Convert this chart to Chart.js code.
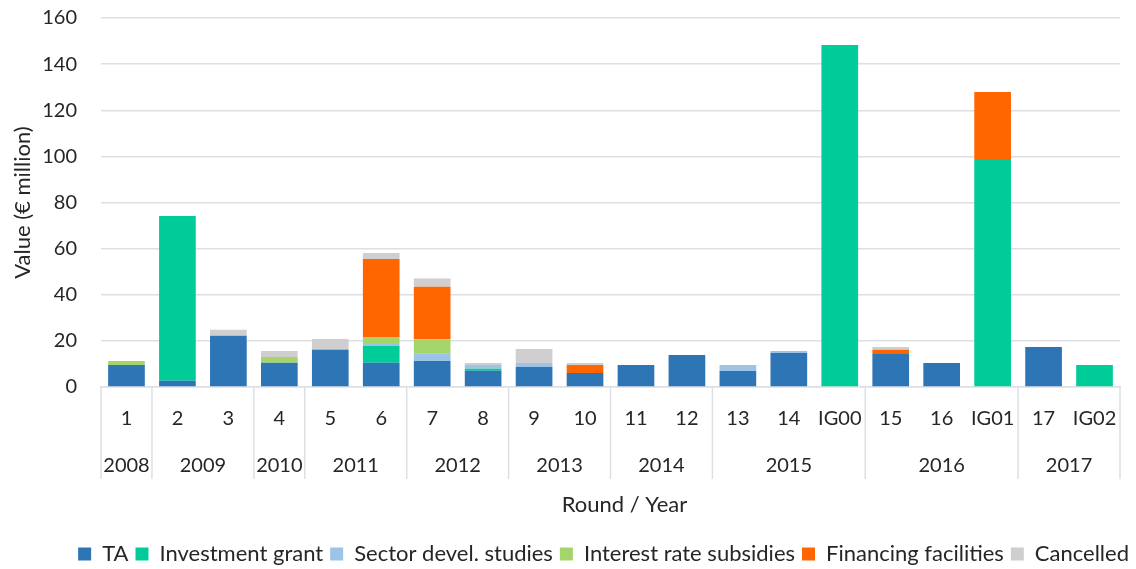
<!DOCTYPE html>
<html>
<head>
<meta charset="utf-8">
<script src="https://cdn.jsdelivr.net/npm/chart.js@4/dist/chart.umd.min.js"></script>
<style>
  html, body { margin: 0; padding: 0; background: #fff; overflow: hidden; }
  #wrap { width: 1136px; height: 575px; }
</style>
</head>
<body>
<div id="wrap"><canvas id="chart"></canvas></div>
<script>
// Categories
const rounds = ['1', '2', '3', '4', '5', '6', '7', '8', '9', '10', '11', '12', '13', '14', 'IG00', '15', '16', 'IG01', '17', 'IG02'];
const years  = ['2008', '2009', '2009', '2010', '2011', '2011', '2012', '2012', '2013', '2013', '2014', '2014', '2015', '2015', '2015', '2016', '2016', '2016', '2017', '2017'];

// Series (€ million)
const ta         = [9.5, 2.7, 22.2, 10.5, 16.2, 10.5, 11.3, 7.1, 8.7, 6.1, 9.5, 13.9, 6.9, 14.7, 0, 14.6, 10.4, 0, 17.3, 0];
const invGrant   = [0, 71.5, 0, 0, 0, 7.4, 0, 0.8, 0, 0, 0, 0, 0, 0, 148.3, 0, 0, 98.9, 0, 9.5];
const sectorStud = [0, 0, 0, 0, 0.3, 1.2, 3.3, 1.6, 1.7, 0, 0, 0, 2.6, 0.9, 0, 0, 0, 0, 0, 0];
const interest   = [1.8, 0, 0, 2.5, 0, 2.4, 6.1, 0, 0, 0, 0, 0, 0, 0, 0, 0, 0, 0, 0, 0];
const financing  = [0, 0, 0, 0, 0, 34.0, 22.8, 0, 0, 3.4, 0, 0, 0, 0, 0, 1.6, 0, 29.0, 0, 0];
const cancelled  = [0, 0, 2.6, 2.6, 4.3, 2.6, 3.6, 0.9, 6.1, 0.9, 0, 0, 0, 0, 0, 1.1, 0, 0, 0, 0];

const yTicks = [0, 20, 40, 60, 80, 100, 120, 140, 160];

const FONT = "Lato, 'Noto Sans', sans-serif";
const TEXT = '#262626';
const GRID = '#DCE0E5';

// Draws the round / year labels and separators under the x axis
const groupAxis = {
  id: 'groupAxis',
  afterLayout(chart) {
    // legend sits a bit further right than the layout padding allows
    chart.legend.left += 16;
    chart.legend.right += 16;
  },
  afterDraw(chart) {
    const ctx = chart.ctx;
    const x = chart.scales.x;
    const area = chart.chartArea;
    const half = (x.getPixelForValue(1) - x.getPixelForValue(0)) / 2;
    ctx.save();
    ctx.font = '20px ' + FONT;
    ctx.fillStyle = TEXT;
    ctx.textAlign = 'center';
    ctx.textBaseline = 'middle';
    rounds.forEach((r, i) => {
      ctx.fillText(r, x.getPixelForValue(i), area.bottom + 32);
    });
    ctx.strokeStyle = GRID;
    ctx.lineWidth = 1.5;
    let start = 0;
    for (let i = 0; i <= years.length; i++) {
      if (i === years.length || (i > 0 && years[i] !== years[i - 1])) {
        const left = x.getPixelForValue(start) - half;
        const right = x.getPixelForValue(i - 1) + half;
        ctx.fillText(years[start], (left + right) / 2, area.bottom + 79);
        start = i;
      }
      if (i === 0 || i === years.length || years[i] !== years[i - 1]) {
        const px = i === years.length ? x.getPixelForValue(i - 1) + half : x.getPixelForValue(i) - half;
        ctx.beginPath();
        ctx.moveTo(px, area.bottom);
        ctx.lineTo(px, area.bottom + 92);
        ctx.stroke();
      }
    }
    ctx.font = '22px ' + FONT;
    ctx.fillText('Round / Year', (area.left + area.right) / 2 + 14, area.bottom + 118);
    ctx.restore();
  }
};

function series(label, data, color) {
  return {
    label: label,
    data: data,
    backgroundColor: color,
    borderWidth: 0,
    barPercentage: 0.72,
    categoryPercentage: 1.0
  };
}

new Chart(document.getElementById('chart'), {
  type: 'bar',
  data: {
    labels: rounds,
    datasets: [
      series('TA', ta, '#2E75B6'),
      series('Investment grant', invGrant, '#00CC99'),
      series('Sector devel. studies', sectorStud, '#9DC3E6'),
      series('Interest rate subsidies', interest, '#A5D46A'),
      series('Financing facilities', financing, '#FF6600'),
      series('Cancelled', cancelled, '#D0CECE')
    ]
  },
  options: {
    responsive: true,
    maintainAspectRatio: false,
    animation: false,
    layout: { padding: { top: 18, right: 16, left: 0, bottom: 0 } },
    plugins: {
      legend: {
        position: 'bottom',
        align: 'end',
        labels: {
          color: TEXT,
          font: { family: FONT, size: 22 },
          boxWidth: 13,
          boxHeight: 13,
          padding: 7
        }
      },
      tooltip: { enabled: false }
    },
    scales: {
      x: {
        stacked: true,
        grid: { display: false, drawTicks: false },
        border: { color: GRID, width: 1.5 },
        ticks: { display: false },
        afterFit(scale) { scale.height = 149; }
      },
      y: {
        stacked: true,
        min: 0,
        max: 160,
        afterBuildTicks(scale) { scale.ticks = yTicks.map(v => ({ value: v })); },
        grid: { color: GRID, lineWidth: 1.5, drawTicks: true, tickLength: 20, tickColor: 'rgba(0,0,0,0)' },
        border: { display: false },
        ticks: {
          color: TEXT,
          font: { family: FONT, size: 20 },
          padding: 4
        },
        title: {
          display: true,
          text: 'Value (€ million)',
          color: TEXT,
          font: { family: FONT, size: 22 },
          padding: { top: 10, bottom: 0 }
        },
        afterFit(scale) { scale.width = 101; }
      }
    }
  },
  plugins: [groupAxis]
});
</script>
</body>
</html>
